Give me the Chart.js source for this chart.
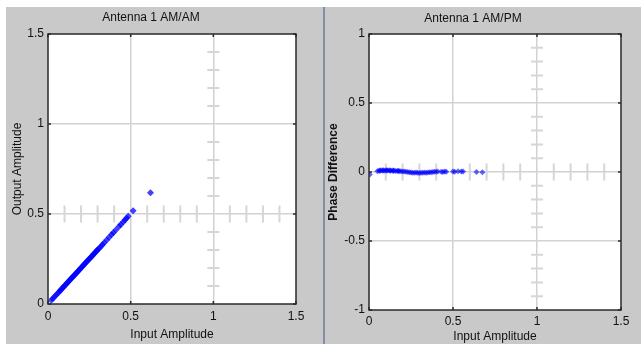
<!DOCTYPE html>
<html>
<head>
<meta charset="utf-8">
<script src="https://cdn.jsdelivr.net/npm/chart.js@4.4.1/dist/chart.umd.min.js"></script>
<style>
  html, body { margin: 0; padding: 0; background: #fff; }
  body { width: 641px; height: 344px; position: relative; overflow: hidden; }
  .panel { position: absolute; top: 7px; height: 337px; background: #c9c9c9; }
  #p1 { left: 6px; width: 317px; }
  #p2 { left: 325px; width: 316px; }
  #divider { position: absolute; left: 323px; top: 7px; width: 2px; height: 337px; background: #8190a5; }
</style>
</head>
<body>
<div class="panel" id="p1"><canvas id="amam" width="317" height="337"></canvas></div>
<div id="divider"></div>
<div class="panel" id="p2"><canvas id="ampm" width="316" height="337"></canvas></div>
<script>
// AM/AM: output amplitude vs input amplitude (almost a straight line)
const LEFT_X = [0.02, 0.03, 0.04, 0.05, 0.06, 0.07, 0.075, 0.08, 0.09, 0.095, 0.1, 0.11, 0.115, 0.12, 0.13, 0.135, 0.14, 0.15, 0.155, 0.16, 0.17, 0.175, 0.18, 0.19, 0.195, 0.2, 0.21, 0.215, 0.22, 0.23, 0.235, 0.24, 0.25, 0.255, 0.26, 0.27, 0.275, 0.28, 0.29, 0.295, 0.3, 0.31, 0.32, 0.33, 0.34, 0.355, 0.37, 0.385, 0.395, 0.41, 0.43, 0.44, 0.455, 0.465, 0.475, 0.485, 0.515, 0.62];
const LEFT_Y = [0.021, 0.03, 0.041, 0.05, 0.061, 0.07, 0.076, 0.081, 0.09, 0.096, 0.101, 0.11, 0.116, 0.121, 0.13, 0.136, 0.141, 0.15, 0.156, 0.161, 0.17, 0.176, 0.181, 0.19, 0.196, 0.201, 0.21, 0.216, 0.221, 0.23, 0.236, 0.241, 0.25, 0.256, 0.261, 0.27, 0.276, 0.281, 0.29, 0.296, 0.301, 0.31, 0.32, 0.331, 0.34, 0.356, 0.371, 0.386, 0.396, 0.411, 0.431, 0.441, 0.456, 0.466, 0.476, 0.487, 0.518, 0.618];

// AM/PM: phase difference vs input amplitude (stays near zero)
const RIGHT_X = [0.005, 0.05, 0.06, 0.065, 0.07, 0.08, 0.085, 0.09, 0.1, 0.105, 0.11, 0.12, 0.125, 0.13, 0.14, 0.145, 0.15, 0.16, 0.17, 0.175, 0.18, 0.19, 0.2, 0.21, 0.22, 0.23, 0.24, 0.25, 0.26, 0.27, 0.28, 0.29, 0.3, 0.31, 0.32, 0.33, 0.34, 0.35, 0.36, 0.37, 0.38, 0.39, 0.4, 0.41, 0.43, 0.44, 0.45, 0.46, 0.5, 0.51, 0.53, 0.55, 0.56, 0.64, 0.675];
const RIGHT_Y = [-0.018, 0.006, 0.01, 0.008, 0.012, 0.01, 0.012, 0.009, 0.011, 0.013, 0.01, 0.012, 0.009, 0.011, 0.01, 0.008, 0.011, 0.008, 0.007, 0.009, 0.006, 0.005, 0.004, 0.003, 0.002, 0.0, -0.002, -0.003, -0.005, -0.006, -0.004, -0.006, -0.007, -0.005, -0.006, -0.004, -0.005, -0.003, -0.002, -0.001, 0.0, 0.002, 0.001, 0.003, 0.002, 0.0, 0.003, 0.001, 0.004, 0.002, 0.005, 0.004, 0.003, 0.0, -0.002];

// tick labels
const X_TICKS = [0, 0.5, 1, 1.5];
const LEFT_Y_TICKS = [0, 0.5, 1, 1.5];
const RIGHT_Y_TICKS = [-1, -0.5, 0, 0.5, 1];
// small cross marks along the grid lines (every 0.1)
const MINOR_X = [0.1, 0.2, 0.3, 0.4, 0.6, 0.7, 0.8, 0.9, 1.1, 1.2, 1.3, 1.4];
const LEFT_MINOR_Y = [0.1, 0.2, 0.3, 0.4, 0.6, 0.7, 0.8, 0.9, 1.1, 1.2, 1.3, 1.4];
const RIGHT_MINOR_Y = [-0.9, -0.8, -0.7, -0.6, -0.4, -0.3, -0.2, -0.1, 0.1, 0.2, 0.3, 0.4, 0.6, 0.7, 0.8, 0.9];

const FONT = "'Liberation Sans', Arial, sans-serif";
const FS = 12;

// white axes box, minor crosses, black frame with inward ticks (matlab look)
const matlabFrame = {
  id: 'matlabFrame',
  beforeDraw(chart) {
    const a = chart.chartArea, ctx = chart.ctx;
    ctx.save();
    ctx.fillStyle = '#fff';
    ctx.fillRect(a.left, a.top, a.right - a.left, a.bottom - a.top);
    ctx.restore();
  },
  beforeDatasetsDraw(chart, args, opts) {
    const ctx = chart.ctx, sx = chart.scales.x, sy = chart.scales.y;
    const yLine = sy.getPixelForValue(opts.crossY);
    const xLine = sx.getPixelForValue(opts.crossX);
    ctx.save();
    ctx.strokeStyle = '#d6d6d6';
    ctx.lineWidth = 2;
    ctx.beginPath();
    opts.minorX.forEach(v => {
      const px = sx.getPixelForValue(v);
      ctx.moveTo(px, yLine - 8.5);
      ctx.lineTo(px, yLine + 8.5);
    });
    opts.minorY.forEach(v => {
      const py = sy.getPixelForValue(v);
      ctx.moveTo(xLine - 6, py);
      ctx.lineTo(xLine + 6, py);
    });
    ctx.stroke();
    ctx.restore();
  },
  afterDatasetsDraw(chart) {
    const a = chart.chartArea, ctx = chart.ctx, sx = chart.scales.x, sy = chart.scales.y;
    ctx.save();
    ctx.strokeStyle = '#2a2a2a';
    ctx.lineWidth = 1.5;
    ctx.strokeRect(a.left, a.top, a.right - a.left, a.bottom - a.top);
    ctx.beginPath();
    sx.ticks.forEach(t => {
      const px = sx.getPixelForValue(t.value);
      ctx.moveTo(px, a.bottom); ctx.lineTo(px, a.bottom - 3);
      ctx.moveTo(px, a.top); ctx.lineTo(px, a.top + 3);
    });
    sy.ticks.forEach(t => {
      const py = sy.getPixelForValue(t.value);
      ctx.moveTo(a.left, py); ctx.lineTo(a.left + 3, py);
      ctx.moveTo(a.right, py); ctx.lineTo(a.right - 3, py);
    });
    ctx.stroke();
    ctx.restore();
  }
};

function buildChart(id, o) {
  const gridColor = (min, max) => ctx =>
    (ctx.tick.value === min || ctx.tick.value === max) ? 'rgba(0,0,0,0)' : '#d2d2d2';
  const lh = FS * 1.2;
  return new Chart(document.getElementById(id), {
    type: 'scatter',
    data: {
      datasets: [{
        data: o.xs.map((v, i) => ({ x: v, y: o.ys[i] })),
        pointStyle: 'rectRot',
        pointRadius: o.radius,
        backgroundColor: o.color,
        borderWidth: 0
      }]
    },
    options: {
      responsive: false,
      animation: false,
      layout: { padding: { left: 0, right: o.padRight, top: 0, bottom: 0 } },
      plugins: {
        legend: { display: false },
        tooltip: { enabled: false },
        title: {
          display: true, text: o.title, color: '#111',
          font: { family: FONT, size: FS, weight: 'normal' },
          padding: { top: o.titleTop, bottom: 27 - lh - o.titleTop }
        },
        matlabFrame: { crossX: 1, crossY: o.crossY, minorX: MINOR_X, minorY: o.minorY }
      },
      scales: {
        x: {
          type: 'linear', min: 0, max: 1.5,
          afterBuildTicks: s => { s.ticks = X_TICKS.map(v => ({ value: v })); },
          afterFit: s => { s.height = o.xAxisH; },
          border: { display: false },
          grid: { color: gridColor(0, 1.5), lineWidth: 1.5, drawTicks: false },
          ticks: { color: '#111', padding: o.xTickPad, maxRotation: 0, font: { family: FONT, size: FS },
            callback: v => String(v) },
          title: { display: true, text: 'Input Amplitude', color: '#111', padding: { top: 0, bottom: o.xTitlePad },
            font: { family: FONT, size: FS } }
        },
        y: {
          type: 'linear', min: o.yMin, max: o.yMax,
          afterBuildTicks: s => { s.ticks = o.yTicks.map(v => ({ value: v })); },
          afterFit: s => { s.width = o.yAxisW; },
          border: { display: false },
          grid: { color: gridColor(o.yMin, o.yMax), lineWidth: 1.5, drawTicks: false },
          ticks: { color: '#111', padding: 4, font: { family: FONT, size: FS }, callback: v => String(v) },
          title: { display: true, text: o.yTitle, color: '#111', padding: { top: o.yTitlePad, bottom: 0 },
            font: { family: FONT, size: FS, weight: o.yTitleWeight } }
        }
      }
    },
    plugins: [matlabFrame]
  });
}

buildChart('amam', {
  xs: LEFT_X, ys: LEFT_Y, radius: 3.5, color: 'rgba(0,0,255,0.75)',
  title: 'Antenna 1 AM/AM', titleTop: 3.8,
  yMin: 0, yMax: 1.5, yTicks: LEFT_Y_TICKS, minorY: LEFT_MINOR_Y, crossY: 0.5,
  yTitle: 'Output Amplitude', yTitleWeight: 'normal', yTitlePad: 4.8,
  padRight: 27, yAxisW: 42, xAxisH: 40, xTickPad: 5, xTitlePad: 1.8
});

buildChart('ampm', {
  xs: RIGHT_X, ys: RIGHT_Y, radius: 3, color: 'rgba(0,0,255,0.6)',
  title: 'Antenna 1 AM/PM', titleTop: 4.8,
  yMin: -1, yMax: 1, yTicks: RIGHT_Y_TICKS, minorY: RIGHT_MINOR_Y, crossY: 0,
  yTitle: 'Phase Difference', yTitleWeight: 'bold', yTitlePad: 1.3,
  padRight: 20, yAxisW: 44, xAxisH: 34, xTickPad: 4, xTitlePad: 0
});
</script>
</body>
</html>
